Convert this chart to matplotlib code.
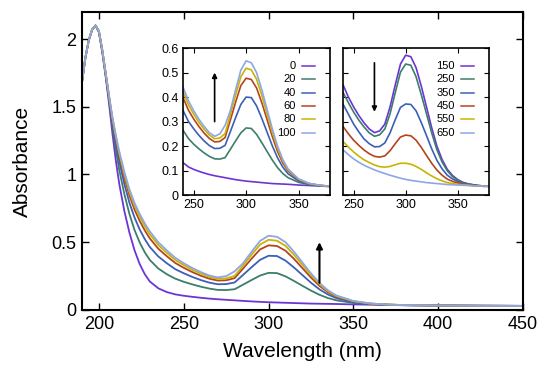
import matplotlib
matplotlib.use("Agg")
import matplotlib.pyplot as plt

plt.rcParams['font.family'] = ['Liberation Sans', 'DejaVu Sans']

# main spectra, 0-100 (wavelength grid in nm)
wl = [190, 192, 194, 196, 198, 200, 202, 204, 206, 208, 210, 212, 215, 218, 221, 224,
      227, 230, 235, 240, 245, 250, 255, 260, 265, 270, 275, 280, 285, 290, 295, 300,
      305, 310, 315, 320, 325, 330, 335, 340, 350, 360, 370, 380, 400, 425, 450]

a0 = [1.68, 1.86, 1.99, 2.07, 2.10, 2.05, 1.90, 1.72, 1.52, 1.30, 1.10, 0.93, 0.73, 0.57,
      0.44, 0.34, 0.265, 0.21, 0.16, 0.132, 0.115, 0.105, 0.097, 0.090, 0.084, 0.079,
      0.075, 0.071, 0.067, 0.063, 0.060, 0.057, 0.055, 0.053, 0.051, 0.049, 0.047, 0.046,
      0.045, 0.044, 0.041, 0.039, 0.037, 0.035, 0.033, 0.031, 0.030]
a20 = [1.68, 1.86, 1.99, 2.07, 2.10, 2.054, 1.909, 1.733, 1.546, 1.352, 1.182, 1.033,
       0.855, 0.708, 0.590, 0.499, 0.426, 0.369, 0.306, 0.264, 0.231, 0.208, 0.189,
       0.172, 0.158, 0.148, 0.147, 0.153, 0.187, 0.221, 0.254, 0.274, 0.272, 0.248,
       0.214, 0.178, 0.143, 0.112, 0.088, 0.071, 0.052, 0.043, 0.038, 0.035, 0.033,
       0.031, 0.030]
a40 = [1.68, 1.86, 1.99, 2.07, 2.10, 2.057, 1.914, 1.741, 1.561, 1.383, 1.231, 1.096,
       0.930, 0.791, 0.682, 0.595, 0.524, 0.465, 0.395, 0.345, 0.301, 0.271, 0.244,
       0.221, 0.202, 0.190, 0.191, 0.203, 0.259, 0.316, 0.370, 0.400, 0.398, 0.364,
       0.313, 0.257, 0.201, 0.152, 0.114, 0.087, 0.058, 0.045, 0.039, 0.036, 0.033,
       0.031, 0.030]
a60 = [1.68, 1.86, 1.99, 2.07, 2.10, 2.059, 1.917, 1.746, 1.572, 1.403, 1.263, 1.136,
       0.979, 0.845, 0.741, 0.658, 0.588, 0.528, 0.452, 0.397, 0.347, 0.311, 0.280,
       0.253, 0.231, 0.217, 0.219, 0.235, 0.306, 0.379, 0.447, 0.477, 0.472, 0.437,
       0.377, 0.308, 0.239, 0.178, 0.131, 0.098, 0.063, 0.047, 0.040, 0.036, 0.033,
       0.031, 0.030]
a80 = [1.68, 1.86, 1.99, 2.07, 2.10, 2.059, 1.919, 1.748, 1.576, 1.413, 1.279, 1.156,
       1.003, 0.871, 0.769, 0.688, 0.618, 0.558, 0.480, 0.422, 0.369, 0.331, 0.297,
       0.269, 0.245, 0.230, 0.233, 0.251, 0.328, 0.408, 0.483, 0.518, 0.511, 0.473,
       0.407, 0.332, 0.257, 0.191, 0.139, 0.103, 0.065, 0.047, 0.040, 0.036, 0.033,
       0.031, 0.030]
a100 = [1.68, 1.86, 1.99, 2.07, 2.10, 2.06, 1.92, 1.75, 1.58, 1.42, 1.29, 1.17, 1.02,
        0.89, 0.79, 0.71, 0.64, 0.58, 0.50, 0.44, 0.385, 0.345, 0.31, 0.28, 0.255, 0.24,
        0.25, 0.285, 0.345, 0.43, 0.51, 0.548, 0.54, 0.50, 0.43, 0.35, 0.27, 0.20,
        0.145, 0.107, 0.066, 0.048, 0.040, 0.036, 0.033, 0.031, 0.030]

# second set, 150-650 (inset only)
wl2 = [240, 245, 250, 255, 260, 265, 270, 275, 280, 285, 290, 295, 300, 305, 310,
       315, 320, 325, 330, 335, 340, 345, 350, 355, 360, 365, 370, 375, 380]
b150 = [0.449, 0.40, 0.36, 0.325, 0.295, 0.27, 0.255, 0.262, 0.29, 0.36, 0.45, 0.535,
        0.571, 0.565, 0.52, 0.445, 0.36, 0.275, 0.20, 0.145, 0.105, 0.08, 0.063, 0.052,
        0.046, 0.042, 0.039, 0.037, 0.036]
b250 = [0.418, 0.377, 0.339, 0.306, 0.278, 0.254, 0.240, 0.246, 0.270, 0.332, 0.418,
        0.502, 0.535, 0.530, 0.483, 0.410, 0.332, 0.254, 0.185, 0.135, 0.099, 0.076,
        0.061, 0.051, 0.045, 0.042, 0.039, 0.037, 0.036]
b350 = [0.37, 0.33, 0.29, 0.258, 0.229, 0.210, 0.197, 0.198, 0.213, 0.254, 0.308, 0.358,
        0.372, 0.370, 0.344, 0.296, 0.243, 0.189, 0.142, 0.107, 0.081, 0.066, 0.055,
        0.047, 0.043, 0.040, 0.038, 0.036, 0.036]
b450 = [0.279, 0.250, 0.224, 0.203, 0.184, 0.169, 0.158, 0.155, 0.160, 0.181, 0.210,
        0.237, 0.245, 0.242, 0.224, 0.195, 0.162, 0.130, 0.102, 0.081, 0.065, 0.056,
        0.049, 0.044, 0.042, 0.039, 0.037, 0.036, 0.036]
b550 = [0.218, 0.196, 0.176, 0.159, 0.144, 0.133, 0.123, 0.116, 0.114, 0.117, 0.124,
        0.130, 0.130, 0.126, 0.117, 0.105, 0.091, 0.078, 0.067, 0.058, 0.051, 0.047,
        0.044, 0.042, 0.040, 0.038, 0.037, 0.036, 0.036]
b650 = [0.184, 0.165, 0.148, 0.134, 0.122, 0.112, 0.103, 0.095, 0.088, 0.081, 0.075,
        0.069, 0.064, 0.060, 0.057, 0.054, 0.051, 0.049, 0.047, 0.045, 0.043, 0.042,
        0.041, 0.040, 0.039, 0.038, 0.037, 0.036, 0.036]

labels1 = ['0', '20', '40', '60', '80', '100']
labels2 = ['150', '250', '350', '450', '550', '650']
colors = ['#6b35d4', '#3c7d6c', '#3c5fb6', '#b3451c', '#c9b400', '#8ea6e6']

set1 = [a0, a20, a40, a60, a80, a100]
set2 = [b150, b250, b350, b450, b550, b650]

fig = plt.figure(figsize=(5.5, 3.73), dpi=100)
ax = fig.add_axes([0.149, 0.169, 0.802, 0.799])

for y, c in zip(set1, colors):
    ax.plot(wl, y, color=c, lw=1.3)

ax.set_xlim(190, 450)
ax.set_ylim(0, 2.2)
ax.set_xticks([200, 250, 300, 350, 400, 450])
ax.set_yticks([0, 0.5, 1, 1.5, 2])
ax.set_yticklabels(['0', '0.5', '1', '1.5', '2'])
ax.tick_params(direction='in', top=True, right=True, length=5, width=1,
               labelsize=13, pad=4)
for s in ax.spines.values():
    s.set_linewidth(1.5)
ax.set_xlabel('Wavelength (nm)', fontsize=15, labelpad=7)
ax.set_ylabel('Absorbance', fontsize=15, labelpad=14)
ax.annotate('', xy=(330, 0.5), xytext=(330, 0.2),
            arrowprops=dict(arrowstyle='-|>', color='black', lw=1.5,
                            mutation_scale=9, shrinkA=0, shrinkB=0))


def inset(rect, xs, series, labels, arrow, show_y):
    ins = fig.add_axes(rect)
    for y, c in zip(series, colors):
        ins.plot(xs, y, color=c, lw=1.2)
    ins.set_xlim(240, 380)
    ins.set_ylim(0, 0.6)
    ins.set_xticks([250, 300, 350])
    ins.set_yticks([0, 0.1, 0.2, 0.3, 0.4, 0.5, 0.6])
    ins.set_yticklabels(['0', '0.1', '0.2', '0.3', '0.4', '0.5', '0.6'])
    ins.tick_params(direction='in', top=True, right=True, length=3.5, width=0.8,
                    labelsize=9, pad=3, labelleft=show_y)
    for s in ins.spines.values():
        s.set_linewidth(1.2)
    for i, (lab, c) in enumerate(zip(labels, colors)):
        yy = 0.878 - i * 0.0908
        ins.text(0.767, yy, lab, transform=ins.transAxes, ha='right', va='center',
                 fontsize=8)
        ins.plot([0.81, 0.90], [yy, yy], color=c, lw=1.1, transform=ins.transAxes)
    ins.annotate('', xy=(270, arrow[1]), xytext=(270, arrow[0]),
                 arrowprops=dict(arrowstyle='-|>', color='black', lw=1.2,
                                 mutation_scale=7, shrinkA=0, shrinkB=0))
    return ins


inset([0.333, 0.477, 0.267, 0.394], wl, set1, labels1, (0.3, 0.5), True)
inset([0.624, 0.477, 0.265, 0.394], wl2, set2, labels2, (0.54, 0.34), False)

fig.savefig('out.png', dpi=100)
